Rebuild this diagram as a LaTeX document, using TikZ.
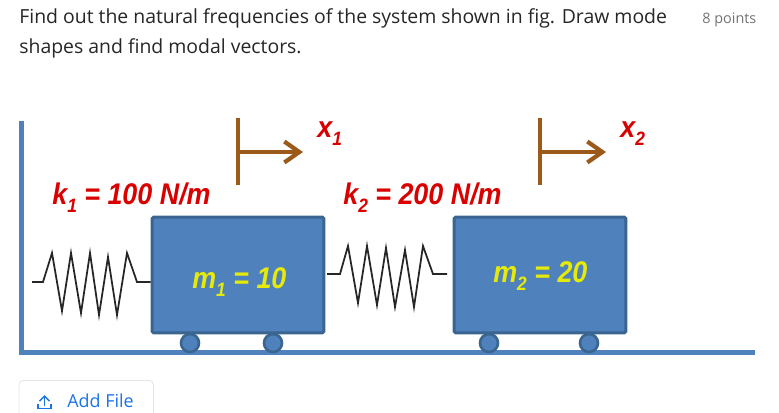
\documentclass[tikz,border=0pt]{standalone}
\usepackage{fontspec}
\setmainfont{Open Sans}
\newfontfamily\labelfont{Liberation Sans}
\usetikzlibrary{arrows.meta}
\definecolor{steel}{HTML}{4F81BD}
\definecolor{steeldark}{HTML}{3A6591}
\definecolor{rust}{HTML}{9C5A1A}
\definecolor{gblue}{HTML}{1A73E8}
\newcommand{\subidx}[1]{\raisebox{-0.55ex}{\fontsize{11}{11}\selectfont #1}}
\tikzset{
	heading/.style={anchor=base west, inner sep=0, font=\fontsize{11.05}{13}\selectfont, text=black!85},
	massbox/.style={draw=steeldark, fill=steel, line width=1.7pt, rounded corners=1pt, inner sep=0, minimum width=3.44cm, minimum height=2.32cm},
	wheel/.style={circle, draw=steeldark, fill=steel, line width=1.5pt, inner sep=0, minimum size=0.36cm},
	rail/.style={draw=steel, line width=2.6pt},
	coil/.style={draw=black!85, line width=1pt, line join=miter},
	disp/.style={draw=rust, line width=2.3pt, -{Straight Barb[length=3mm, width=4.2mm, line width=2.4pt]}},
	dispbar/.style={draw=rust, line width=2.8pt},
	redlabel/.style={anchor=base west, inner sep=0, text=red!85!black, font=\labelfont\bfseries\itshape\fontsize{17}{19}\selectfont, xscale=0.9},
	masslabel/.style={anchor=base west, inner sep=0, text=yellow!90!green, font=\labelfont\bfseries\itshape\fontsize{17}{19}\selectfont, xscale=0.9},
}
\begin{document}
\begin{tikzpicture}[x=0.02cm, y=-0.02cm]
		\useasboundingbox (0, 0) rectangle (779, 413);
		% question text
		\draw (19, 23) node [heading] (line1) {Find out the natural frequencies of the system shown in fig. Draw mode};
		\draw (19, 53) node [heading] (line2) {shapes and find modal vectors.};
		\draw (702, 23) node [heading, text=black!55, font=\fontsize{8.2}{10}\selectfont] (points) {8 points};
		% wall and floor
		\coordinate (walltop) at (21.5, 121);
		\coordinate (corner) at (21.5, 352.5);
		\coordinate (floorend) at (755, 352.5);
		\draw [rail, line join=miter] (walltop) -- (corner) -- (floorend);
		% wheels
		\draw (190, 343) node [wheel] (w1) {};
		\draw (273, 343) node [wheel] (w2) {};
		\draw (489, 343) node [wheel] (w3) {};
		\draw (589, 343) node [wheel] (w4) {};
		% masses
		\draw (238, 275) node [massbox] (m1) {};
		\draw (540, 275) node [massbox] (m2) {};
		\draw (192, 288) node [masslabel] (m1text) {m\subidx{1} = 10};
		\draw (493, 282) node [masslabel] (m2text) {m\subidx{2} = 20};
		% springs
		\coordinate (s1) at (32, 282);
		\coordinate (s2) at (327, 274);
		\coordinate (s2end) at (447, 274);
		\draw [coil] (s1) -- (43, 282) -- (52, 253) -- (62, 311) -- (71, 253) -- (81, 313) -- (90, 253) -- (99, 315) -- (108, 257) -- (117, 315) -- (127, 253) -- (137, 282) -- (s1 -| m1.west);
		\draw [coil] (s2) -- (340, 274) -- (348, 246) -- (358, 303) -- (367, 246) -- (377, 305) -- (386, 248) -- (395, 307) -- (405, 250) -- (414, 307) -- (423, 246) -- (433, 274) -- (s2end);
		\draw (52, 204) node [redlabel] (k1) {k\subidx{1} = 100 N/m};
		\draw (343, 204) node [redlabel] (k2) {k\subidx{2} = 200 N/m};
		% displacement arrows
		\coordinate (b1top) at (238, 118);
		\coordinate (b1low) at (238, 185);
		\coordinate (b1mid) at (238, 152);
		\coordinate (h1) at (303, 152);
		\coordinate (b2top) at (540, 118);
		\coordinate (b2low) at (540, 185);
		\coordinate (b2mid) at (540, 152);
		\coordinate (h2) at (606, 152);
		\draw [dispbar] (b1top) -- (b1low);
		\draw [disp] (b1mid) -- (h1);
		\draw [dispbar] (b2top) -- (b2low);
		\draw [disp] (b2mid) -- (h2);
		\draw (317, 137) node [redlabel] (x1) {x\subidx{1}};
		\draw (620, 137) node [redlabel] (x2) {x\subidx{2}};
		% add file button
		\coordinate (btnl) at (19, 414);
		\coordinate (btnlt) at (19, 380.5);
		\coordinate (btnrt) at (153.5, 380.5);
		\coordinate (btnr) at (153.5, 414);
		\draw [draw=black!10, line width=0.5pt, rounded corners=2.5pt] (btnl) -- (btnlt) -- (btnrt) -- (btnr);
		\coordinate (up1) at (44.5, 406);
		\coordinate (up2) at (44.5, 395);
		\draw [gblue, line width=0.9pt, -{Straight Barb[length=1mm, width=2mm, line width=0.9pt]}] (up1) -- (up2);
		\draw [gblue, line width=0.9pt] (38, 404) -- (38, 408.5) -- (51, 408.5) -- (51, 404);
		\draw (67, 407.5) node [heading, text=gblue, font=\fontsize{10.2}{12}\selectfont] (addfile) {Add File};
	\end{tikzpicture}
\end{document}
